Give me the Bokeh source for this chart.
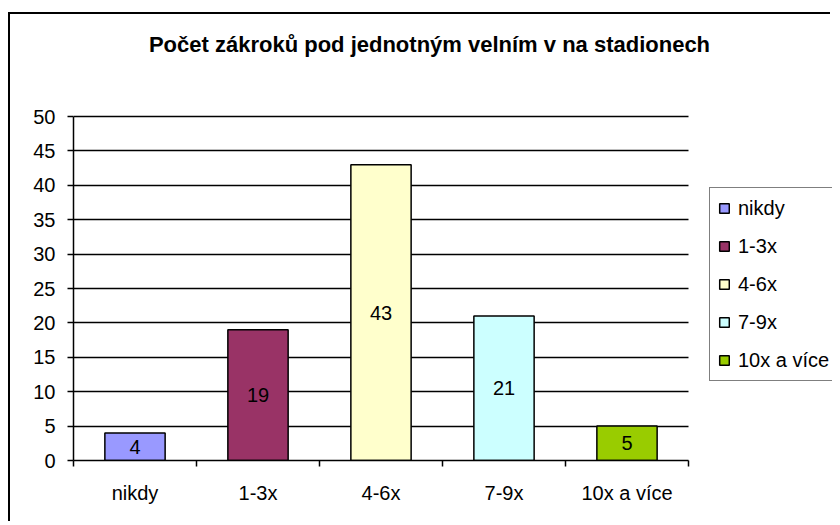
from bokeh.plotting import figure
from bokeh.models import ColumnDataSource, FixedTicker, Legend, LegendItem, Label
from bokeh.embed import file_html
from bokeh.resources import INLINE
from bokeh.core.properties import value

title_text = "Počet zákroků pod jednotným velním v na stadionech"
categories = ["nikdy", "1-3x", "4-6x", "7-9x", "10x a více"]
counts = [4, 19, 43, 21, 5]
colors = ["#9999FF", "#993366", "#FFFFCC", "#CCFFFF", "#99CC00"]
y_ticks = [0, 5, 10, 15, 20, 25, 30, 35, 40, 45, 50]

FONT = "Liberation Sans"
FS = "20px"

n = len(categories)
y_max = 50
# layout (px): frame spans the canvas to the right/top; plot area is the part 0..n / 0..50
W, H = 822, 509
ML, MB = 63, 63
cat_px = 123.0
val_px = 344.0 / y_max
x_end = (W - ML) / cat_px
y_end = (H - MB) / val_px

xs = [i + 0.5 for i in range(n)]
src = ColumnDataSource(dict(
    x=xs, top=counts, mid=[c / 2 for c in counts], cat=categories,
    color=colors, lbl=[str(c) for c in counts]))

p = figure(width=W, height=H, x_range=(0, x_end), y_range=(0, y_end),
           output_backend="svg", toolbar_location=None, title=None,
           min_border_left=ML, min_border_right=0, min_border_top=0,
           min_border_bottom=MB)
p.styles = {"margin-top": "12px", "margin-left": "8px",
            "border-top": "2px solid black", "border-left": "2px solid black"}

p.outline_line_color = None
p.background_fill_color = "white"
p.border_fill_color = "white"

p.xgrid.grid_line_color = None
p.ygrid.grid_line_color = "black"
p.ygrid.grid_line_width = 1.5
p.ygrid.ticker = FixedTicker(ticks=y_ticks)
p.ygrid.bounds = (0, y_max)
p.ygrid.cross_bounds = (0, n)

bars = p.vbar(x="x", top="top", width=0.49, bottom=0, source=src,
              fill_color="color", line_color="black", line_width=1.5)

p.text(x="x", y="mid", text="lbl", source=src, text_align="center",
       text_baseline="middle", text_font=value(FONT), text_font_size=FS,
       text_color="black")

# x axis
xa = p.xaxis[0]
xa.bounds = (0, n)
xa.ticker = FixedTicker(ticks=xs, minor_ticks=list(range(n + 1)))
xa.major_label_overrides = {x: c for x, c in zip(xs, categories)}
xa.major_tick_line_color = None
xa.major_tick_out = 0
xa.major_tick_in = 0
xa.minor_tick_out = 6
xa.minor_tick_in = 0
xa.minor_tick_line_color = "black"
xa.minor_tick_line_width = 1.5
xa.axis_line_color = "black"
xa.axis_line_width = 1.5
xa.major_label_text_font = FONT
xa.major_label_text_font_size = FS
xa.major_label_text_color = "black"
xa.major_label_standoff = 15

ya = p.yaxis[0]
ya.bounds = (0, y_max)
ya.ticker = FixedTicker(ticks=y_ticks)
ya.minor_tick_line_color = None
ya.major_tick_out = 6
ya.major_tick_in = 0
ya.major_tick_line_color = "black"
ya.major_tick_line_width = 1.5
ya.axis_line_color = "black"
ya.axis_line_width = 1.5
ya.major_label_text_font = FONT
ya.major_label_text_font_size = FS
ya.major_label_text_color = "black"
ya.major_label_standoff = 12

# title as a label above the plot area
p.add_layout(Label(x=(429 - 73) / cat_px, y=(460 - 44) / val_px, text=title_text,
                   text_align="center", text_baseline="middle",
                   text_font=FONT, text_font_size="22px",
                   text_font_style="bold", text_color="black"))

items = [LegendItem(label=c, renderers=[bars], index=i)
         for i, c in enumerate(categories)]
lg = Legend(items=items, location=(636, 79), orientation="vertical")
lg.border_line_color = "black"
lg.border_line_width = 1.5
lg.background_fill_color = "white"
lg.background_fill_alpha = 1
lg.label_text_font = FONT
lg.label_text_font_size = FS
lg.label_text_color = "black"
lg.glyph_width = 12
lg.glyph_height = 12
lg.label_height = 24
lg.label_width = 200
lg.spacing = 14
lg.padding = 8
lg.margin = 0
lg.label_standoff = 8
p.add_layout(lg, "center")

open("out.html", "w").write(file_html(p, INLINE))
